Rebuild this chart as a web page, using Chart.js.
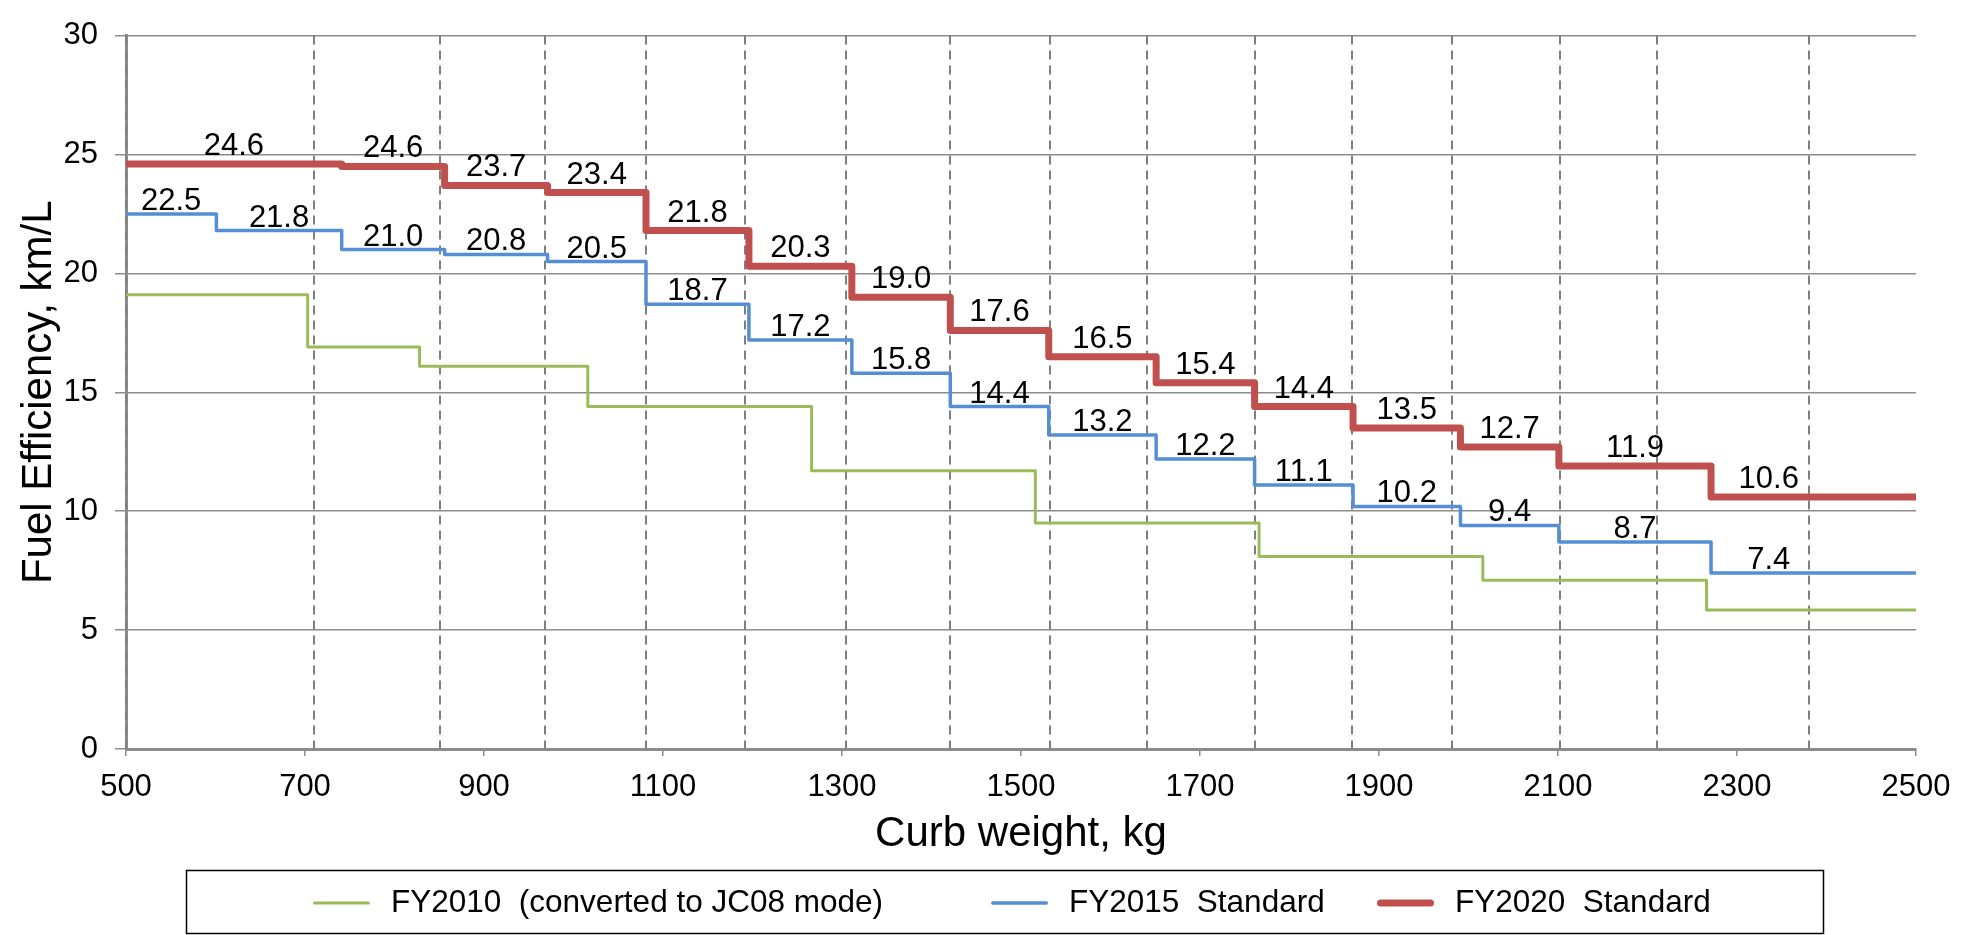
<!DOCTYPE html>
<html>
<head>
<meta charset="utf-8">
<script src="https://cdn.jsdelivr.net/npm/chart.js@4.4.0/dist/chart.umd.min.js"></script>
<style>
  html, body { margin: 0; padding: 0; background: #fff; }
</style>
</head>
<body>
<canvas id="fuelChart" width="1970" height="935"></canvas>
<script>
// weight class start (kg) and standard value (km/L) for each class
const fy2010Weights = [500, 703, 828, 1016, 1266, 1516, 1766, 2016, 2266];
const fy2010Values = [19.1, 16.9, 16.1, 14.4, 11.7, 9.5, 8.1, 7.1, 5.85];

const fy2015Weights = [500, 601, 741, 856, 971, 1081, 1196, 1311, 1421, 1531, 1651, 1761, 1871, 1991, 2101, 2271];
const fy2015Values = [22.5, 21.8, 21.0, 20.8, 20.5, 18.7, 17.2, 15.8, 14.4, 13.2, 12.2, 11.1, 10.2, 9.4, 8.7, 7.4];
const fy2015Labels = ['22.5', '21.8', '21.0', '20.8', '20.5', '18.7', '17.2', '15.8', '14.4', '13.2', '12.2', '11.1', '10.2', '9.4', '8.7', '7.4'];

const fy2020Weights = [500, 741, 856, 971, 1081, 1196, 1311, 1421, 1531, 1651, 1761, 1871, 1991, 2101, 2271];
const fy2020Values = [24.6, 24.5, 23.7, 23.4, 21.8, 20.3, 19.0, 17.6, 16.5, 15.4, 14.4, 13.5, 12.7, 11.9, 10.6];
// printed labels (second class is printed as 24.6 on the original)
const fy2020Labels = ['24.6', '24.6', '23.7', '23.4', '21.8', '20.3', '19.0', '17.6', '16.5', '15.4', '14.4', '13.5', '12.7', '11.9', '10.6'];

// dashed vertical guide lines (kg)
const guideWeights = [500, 710, 851, 968, 1081, 1192, 1305, 1421, 1532, 1641, 1762, 1870, 1982, 2102, 2211, 2381];

const xTickLabels = [500, 700, 900, 1100, 1300, 1500, 1700, 1900, 2100, 2300, 2500];
const yTickLabels = [0, 5, 10, 15, 20, 25, 30];

const weightEnd = 2500;
const labelEnd = 2400; // last class label is centred as if the class stopped here

const FONT = "'Liberation Sans', Arial, sans-serif";
Chart.defaults.font.family = FONT;

// turn class starts + values into step points
function steps(weights, values) {
    const pts = weights.map((w, i) => ({ x: w, y: values[i] }));
    pts.push({ x: weightEnd, y: values[values.length - 1] });
    return pts;
}

// dashed guides behind the lines
const guideLines = {
    id: 'guideLines',
    beforeDatasetsDraw(chart) {
        const { ctx, chartArea, scales: { x } } = chart;
        ctx.save();
        ctx.strokeStyle = '#7f7f7f';
        ctx.lineWidth = 2;
        ctx.setLineDash([9, 6]);
        guideWeights.forEach(w => {
            const px = Math.round(x.getPixelForValue(w));
            ctx.beginPath();
            ctx.moveTo(px, chartArea.top);
            ctx.lineTo(px, chartArea.bottom);
            ctx.stroke();
        });
        ctx.restore();
    }
};

// value labels above each class step
const valueLabels = {
    id: 'valueLabels',
    afterDatasetsDraw(chart) {
        const { ctx, scales: { x, y } } = chart;
        ctx.save();
        ctx.font = '31px ' + FONT;
        ctx.fillStyle = '#000';
        ctx.textAlign = 'center';
        ctx.textBaseline = 'alphabetic';
        chart.data.datasets.forEach(ds => {
            if (!ds.valueText) return;
            const n = ds.valueText.length;
            for (let i = 0; i < n; i++) {
                const x0 = ds.data[i].x;
                const x1 = i === n - 1 ? labelEnd : ds.data[i + 1].x;
                const px = x.getPixelForValue((x0 + x1) / 2);
                const py = y.getPixelForValue(ds.data[i].y) - ds.labelLift;
                ctx.fillText(ds.valueText[i], px, py);
            }
        });
        ctx.restore();
    }
};

// boxed legend at the bottom
const boxLegend = {
    id: 'boxLegend',
    afterDraw(chart) {
        const ctx = chart.ctx;
        const starts = [313, 991, 1377];
        ctx.save();
        ctx.strokeStyle = '#000';
        ctx.lineWidth = 1.5;
        ctx.strokeRect(186.5, 870.5, 1637, 63);
        ctx.font = '31.5px ' + FONT;
        ctx.fillStyle = '#000';
        ctx.textBaseline = 'middle';
        ctx.textAlign = 'left';
        chart.data.datasets.forEach((ds, i) => {
            const lx = starts[i];
            const ly = 903;
            ctx.beginPath();
            ctx.strokeStyle = ds.borderColor;
            ctx.lineWidth = ds.borderWidth;
            ctx.lineCap = 'round';
            ctx.moveTo(lx + ds.borderWidth / 2, ly);
            ctx.lineTo(lx + 57 - ds.borderWidth / 2, ly);
            ctx.stroke();
            ctx.fillText(ds.label, lx + 78, ly);
        });
        ctx.restore();
    }
};

const data = {
    datasets: [
        {
            label: 'FY2010  (converted to JC08 mode)',
            data: steps(fy2010Weights, fy2010Values),
            borderColor: '#9BBB59',
            borderWidth: 3,
            order: 2
        },
        {
            label: 'FY2015  Standard',
            data: steps(fy2015Weights, fy2015Values),
            borderColor: '#558ED5',
            borderWidth: 3.5,
            order: 1,
            valueText: fy2015Labels,
            labelLift: 4
        },
        {
            label: 'FY2020  Standard',
            data: steps(fy2020Weights, fy2020Values),
            borderColor: '#C0504D',
            borderWidth: 7,
            order: 0,
            valueText: fy2020Labels,
            labelLift: 9
        }
    ]
};

const config = {
    type: 'line',
    data: data,
    options: {
        responsive: false,
        animation: false,
        layout: { padding: { top: 20, right: 54, bottom: 54, left: 0 } },
        datasets: {
            line: {
                stepped: 'before',
                pointRadius: 0,
                tension: 0,
                fill: false,
                borderJoinStyle: 'round'
            }
        },
        plugins: {
            legend: { display: false },
            tooltip: { enabled: false }
        },
        scales: {
            x: {
                type: 'linear',
                min: 500,
                max: 2500,
                afterBuildTicks: s => { s.ticks = xTickLabels.map(v => ({ value: v })); },
                afterFit: s => { s.height = 132; },
                grid: { drawOnChartArea: false, color: '#8c8c8c', lineWidth: 1.5, tickLength: 7 },
                border: { color: '#8c8c8c', width: 3 },
                ticks: {
                    color: '#000',
                    font: { size: 31 },
                    padding: 13,
                    maxRotation: 0,
                    autoSkip: false,
                    callback: v => String(v)
                },
                title: {
                    display: true,
                    text: 'Curb weight, kg',
                    color: '#000',
                    font: { size: 42 },
                    padding: { top: 0, bottom: 21 }
                }
            },
            y: {
                type: 'linear',
                min: 0,
                max: 30,
                afterBuildTicks: s => { s.ticks = yTickLabels.map(v => ({ value: v })); },
                afterFit: s => { s.width = 126; },
                grid: { color: '#8c8c8c', lineWidth: 1.5, tickLength: 11 },
                border: { color: '#8c8c8c', width: 3 },
                ticks: { color: '#000', font: { size: 31 }, padding: 17, callback: v => String(v) },
                title: {
                    display: true,
                    text: 'Fuel Efficiency, km/L',
                    color: '#000',
                    font: { size: 42 },
                    padding: { top: 14, bottom: 0 }
                }
            }
        }
    },
    plugins: [guideLines, valueLabels, boxLegend]
};

new Chart(document.getElementById('fuelChart').getContext('2d'), config);
</script>
</body>
</html>
